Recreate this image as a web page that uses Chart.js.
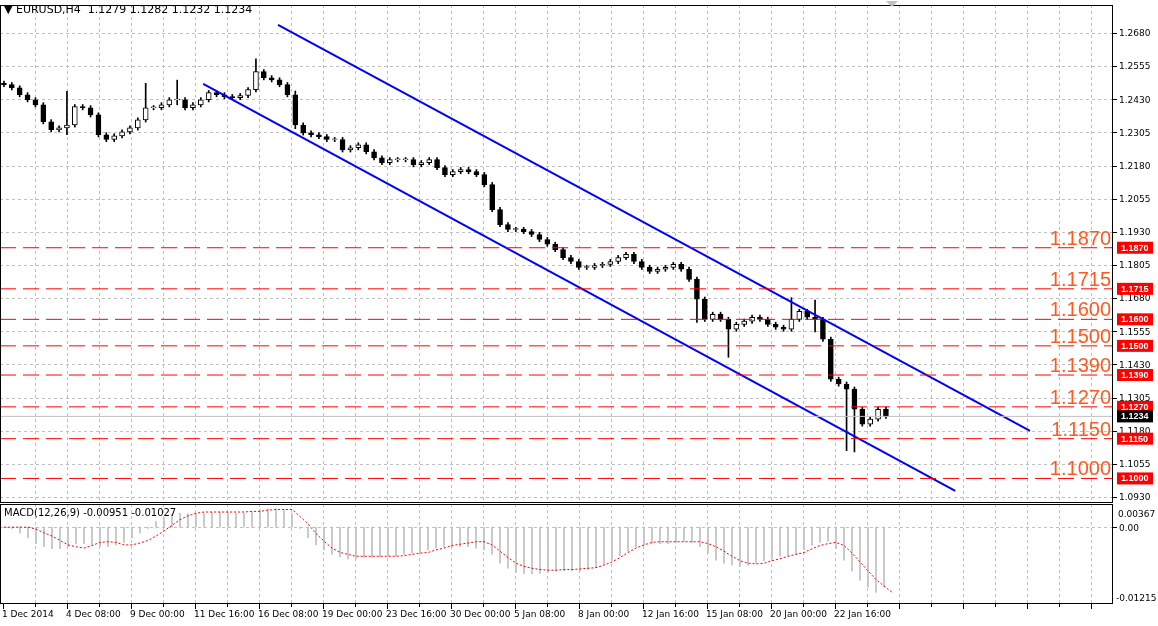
<!DOCTYPE html>
<html><head><meta charset="utf-8">
<script src="https://cdn.jsdelivr.net/npm/chart.js@4.4.1/dist/chart.umd.min.js"></script>
<style>
html,body{margin:0;padding:0;background:#fff;width:1158px;height:626px;overflow:hidden}
#c1{position:absolute;left:0;top:0}
#c2{position:absolute;left:0;top:504px}
#title{position:absolute;left:4px;top:3px;font:11px "DejaVu Sans";color:#000;white-space:pre}
#mtitle{position:absolute;left:4px;top:507px;font:10px "DejaVu Sans";color:#000}
</style></head><body>
<canvas id="c1" width="1158" height="504"></canvas>
<canvas id="c2" width="1158" height="122"></canvas>
<div id="title">▼ EURUSD,H4  1.1279 1.1282 1.1232 1.1234</div>
<div id="mtitle">MACD(12,26,9) -0.00951 -0.01027</div>
<script>
// ---- data (H4 EURUSD, sampled every other bar) ----
const closes = [1.2485,1.2473,1.2447,1.2428,1.2409,1.2345,1.2315,1.2322,1.2333,1.2402,1.2398,1.2371,1.2296,1.2278,1.2292,1.2307,1.2322,1.2352,1.2398,1.2398,1.2409,1.2428,1.2428,1.2398,1.2409,1.2428,1.2455,1.2447,1.2440,1.2436,1.2444,1.2466,1.2534,1.2511,1.2503,1.2485,1.2447,1.2333,1.2303,1.2296,1.2289,1.2278,1.2278,1.2239,1.2247,1.2258,1.2232,1.2209,1.2191,1.2202,1.2202,1.2202,1.2183,1.2191,1.2202,1.2172,1.2146,1.2157,1.2165,1.2157,1.2146,1.2108,1.2014,1.1957,1.1939,1.1939,1.1931,1.1920,1.1901,1.1883,1.1863,1.1833,1.1818,1.1796,1.1796,1.1803,1.1807,1.1818,1.1833,1.1845,1.1818,1.1796,1.1781,1.1789,1.1796,1.1807,1.1789,1.1751,1.1676,1.1600,1.1619,1.1600,1.1563,1.1581,1.1593,1.1608,1.1600,1.1581,1.1570,1.1563,1.1600,1.1630,1.1608,1.1600,1.1525,1.1374,1.1356,1.1337,1.1261,1.1205,1.1224,1.1261,1.1234];
const firstOpen = 1.2490;
const wickPips = 8;
const extremes = {8:[1.2460,1.2296],18:[1.2490,1.2379],22:[1.2502,1.2409],32:[1.2582,1.2500],37:[1.2461,1.2319],62:[1.2057,1.2007],88:[1.1714,1.1588],92:[1.1583,1.1457],100:[1.1682,1.1573],103:[1.1673,1.1553],107:[1.1240,1.1105],108:[1.1250,1.1100]};
const macd = [0,-0.0002,-0.0009,-0.0017,-0.0026,-0.0031,-0.0034,-0.0034,-0.0031,-0.0026,-0.0026,-0.0028,-0.0031,-0.0031,-0.0028,-0.0024,-0.0017,-0.0009,-0.0002,0.0009,0.0015,0.0021,0.0022,0.0021,0.0021,0.0022,0.0024,0.0024,0.0023,0.0022,0.0022,0.0024,0.0028,0.0029,0.0029,0.0028,0.0021,-0.0002,-0.0017,-0.0028,-0.0036,-0.0043,-0.0047,-0.0050,-0.0050,-0.0048,-0.0048,-0.0047,-0.0046,-0.0045,-0.0043,-0.0041,-0.0040,-0.0036,-0.0033,-0.0031,-0.0031,-0.0031,-0.0031,-0.0033,-0.0036,-0.0043,-0.0057,-0.0065,-0.0071,-0.0073,-0.0074,-0.0073,-0.0071,-0.0070,-0.0069,-0.0069,-0.0069,-0.0067,-0.0064,-0.0058,-0.0052,-0.0045,-0.0038,-0.0031,-0.0028,-0.0026,-0.0026,-0.0026,-0.0024,-0.0022,-0.0024,-0.0031,-0.0041,-0.0052,-0.0057,-0.0060,-0.0062,-0.0060,-0.0057,-0.0053,-0.0050,-0.0046,-0.0045,-0.0043,-0.0036,-0.0029,-0.0024,-0.0022,-0.0034,-0.0052,-0.0069,-0.0084,-0.0095,-0.0103,-0.0095];
const signal = [0,0,0,0,-0.0003,-0.0009,-0.0014,-0.0021,-0.0028,-0.0031,-0.0033,-0.0029,-0.0024,-0.0023,-0.0024,-0.0028,-0.0028,-0.0025,-0.0021,-0.0014,-0.0006,0.0003,0.0012,0.0018,0.0022,0.0024,0.0024,0.0024,0.0024,0.0024,0.0024,0.0025,0.0025,0.0027,0.0028,0.0028,0.0028,0.0017,0.0005,-0.0010,-0.0022,-0.0033,-0.0040,-0.0043,-0.0046,-0.0046,-0.0046,-0.0046,-0.0046,-0.0046,-0.0045,-0.0043,-0.0041,-0.0040,-0.0036,-0.0033,-0.0029,-0.0027,-0.0025,-0.0023,-0.0023,-0.0028,-0.0038,-0.0048,-0.0057,-0.0062,-0.0065,-0.0067,-0.0068,-0.0068,-0.0067,-0.0067,-0.0066,-0.0065,-0.0064,-0.0060,-0.0055,-0.0048,-0.0040,-0.0033,-0.0028,-0.0024,-0.0023,-0.0023,-0.0023,-0.0023,-0.0023,-0.0023,-0.0026,-0.0031,-0.0038,-0.0046,-0.0053,-0.0057,-0.0058,-0.0057,-0.0053,-0.0050,-0.0046,-0.0043,-0.0040,-0.0034,-0.0029,-0.0026,-0.0024,-0.0029,-0.0041,-0.0055,-0.0069,-0.0083,-0.0093,-0.0103];
const levels = [1.1870,1.1715,1.1600,1.1500,1.1390,1.1270,1.1150,1.1000];
const currentPrice = 1.1234;
const upperChannel = [[34.8,1.2710],[130.3,1.1179]];
const lowerChannel = [[25.3,1.2488],[120.8,1.0953]];
const priceTicks = [1.2680,1.2555,1.2430,1.2305,1.2180,1.2055,1.1930,1.1805,1.1680,1.1555,1.1430,1.1305,1.1180,1.1055,1.0930];
const macdMax = 0.00367, macdMin = -0.01215;
const timeLabels = ["1 Dec 2014","4 Dec 08:00","9 Dec 00:00","11 Dec 16:00","16 Dec 08:00","19 Dec 00:00","23 Dec 16:00","30 Dec 00:00","5 Jan 08:00","8 Jan 00:00","12 Jan 16:00","15 Jan 08:00","20 Jan 00:00","22 Jan 16:00"];

// ---- build ----
const XMIN=-0.5, XMAX=-0.5+1113/7.875, XMAX_M=-0.5+1113/8;
const wicks=[], bull=[], bear=[];
closes.forEach((c,i)=>{
  const o = i===0?firstOpen:closes[i-1];
  let hi=Math.max(o,c)+wickPips*0.0001, lo=Math.min(o,c)-wickPips*0.0001;
  if(extremes[i]){hi=Math.max(hi,extremes[i][0]);lo=Math.min(lo,extremes[i][1]);}
  wicks.push({x:i,y:[lo,hi]});
  let b=[Math.min(o,c),Math.max(o,c)]; if(b[1]-b[0]<0.0003)b[1]=b[0]+0.0003;
  (c>=o?bull:bear).push({x:i,y:b});
});
const FONT='9px "DejaVu Sans"';
function vgrid(ch){const x=ch.ctx,a=ch.chartArea;x.save();x.strokeStyle='#c0c0c0';x.lineWidth=1;x.setLineDash([3,3]);
  for(let px=35;px<a.right;px+=32){x.beginPath();x.moveTo(px+0.5,a.top);x.lineTo(px+0.5,a.bottom);x.stroke();}x.restore();}
function hgrid(ch,vals,scale){const x=ch.ctx,a=ch.chartArea;x.save();x.strokeStyle='#c0c0c0';x.setLineDash([3,3]);
  vals.forEach(v=>{const py=Math.round(scale.getPixelForValue(v))+0.5;x.beginPath();x.moveTo(a.left,py);x.lineTo(a.right,py);x.stroke();});x.restore();}
function frame(ch){const a=ch.chartArea,x=ch.ctx;x.save();x.strokeStyle='#000';x.lineWidth=1;x.strokeRect(a.left+0.5,a.top+0.5,a.right-a.left-1,a.bottom-a.top-1);x.restore();}
function ylabel(ch,text,py){const x=ch.ctx,a=ch.chartArea;x.save();x.strokeStyle='#000';x.beginPath();x.moveTo(a.right,Math.round(py)+0.5);x.lineTo(a.right+4,Math.round(py)+0.5);x.stroke();
  x.fillStyle='#000';x.font=FONT;x.textAlign='left';x.textBaseline='middle';x.fillText(text,a.right+6,py+1);x.restore();}

const mainPlug={id:'mainPlug',
  beforeDatasetsDraw(ch){vgrid(ch);hgrid(ch,priceTicks,ch.scales.y);},
  afterDraw(ch){
    const x=ch.ctx,ys=ch.scales.y,a=ch.chartArea;frame(ch);
    priceTicks.forEach(v=>ylabel(ch,v.toFixed(4),ys.getPixelForValue(v)));
    x.save();
    levels.forEach(l=>{const py=ys.getPixelForValue(l);
      x.font='20px "Liberation Sans"';x.fillStyle='#ff5a1e';x.textAlign='right';x.textBaseline='alphabetic';x.fillText(l.toFixed(4),1111,py-3);
      x.fillStyle='#ff0000';x.fillRect(a.right+4,py-6,36,12);x.font='bold 9px "Liberation Sans"';x.fillStyle='#fff';x.textAlign='left';x.textBaseline='middle';x.fillText(l.toFixed(4),a.right+8,py+0.5);});
    const py=ys.getPixelForValue(currentPrice);x.fillStyle='#000';x.fillRect(a.right+4,py-6,36,12);x.fillStyle='#fff';x.font='bold 9px "Liberation Sans"';x.textAlign='left';x.textBaseline='middle';x.fillText(currentPrice.toFixed(4),a.right+8,py+0.5);
    x.fillStyle='#c0c0c0';x.beginPath();x.moveTo(886,1);x.lineTo(898,1);x.lineTo(892,7);x.fill();
    x.restore();}};

const lineDs = (pts,color,w,dash)=>({type:'line',data:pts.map(p=>({x:p[0],y:p[1]})),borderColor:color,borderWidth:w,borderDash:dash||[],pointRadius:0,fill:false,order:0});
const datasets=[
  {type:'bar',data:wicks,backgroundColor:'#000',barThickness:1,grouped:false,order:3},
  {type:'bar',data:bull,backgroundColor:'#fff',borderColor:'#000',borderWidth:1,borderSkipped:false,barThickness:5,grouped:false,order:2},
  {type:'bar',data:bear,backgroundColor:'#000',borderColor:'#000',borderWidth:1,borderSkipped:false,barThickness:5,grouped:false,order:2},
  lineDs([[XMIN,currentPrice],[XMAX,currentPrice]],'#c0c0c0',1),
  ...levels.map(l=>lineDs([[XMIN,l],[XMAX,l]],'#ff0000',1,[16,7])),
  lineDs(upperChannel,'#0000ff',2),
  lineDs(lowerChannel,'#0000ff',2)
];
const yAxisBase={position:'right',ticks:{display:false},grid:{display:false},border:{display:false},afterFit:s=>{s.width=45}};
new Chart(document.getElementById('c1'),{data:{datasets},plugins:[mainPlug],options:{
  responsive:false,animation:false,events:[],layout:{padding:{top:5,bottom:1,left:0,right:0}},
  plugins:{legend:{display:false},tooltip:{enabled:false}},
  scales:{
    x:{type:'linear',display:false,offset:false,min:XMIN,max:XMAX},
    y:{...yAxisBase,min:1.0930-6*0.0003763,max:1.2680+28*0.0003763}
  }}});

const macdPlug={id:'macdPlug',
  beforeDatasetsDraw(ch){vgrid(ch);hgrid(ch,[0],ch.scales.y);},
  afterDraw(ch){const x=ch.ctx,a=ch.chartArea;frame(ch);
    x.save();x.fillStyle='#000';x.font=FONT;x.textAlign='left';x.textBaseline='middle';
    x.fillText(macdMax.toFixed(5),a.right+5,a.top+11);
    ylabel(ch,'0.00',ch.scales.y.getPixelForValue(0));
    x.fillText(macdMin.toFixed(5),a.right+3,a.bottom-5);
    x.strokeStyle='#000';
    for(let px=3,k=0;px<a.right;px+=32,k++){x.beginPath();x.moveTo(px+0.5,a.bottom);x.lineTo(px+0.5,a.bottom+(k%2===0?5:3));x.stroke();
      if(k%2===0&&timeLabels[k/2]){x.textBaseline='alphabetic';x.fillText(timeLabels[k/2],px-1,a.bottom+13);}}
    x.restore();}};
new Chart(document.getElementById('c2'),{data:{datasets:[
  {type:'bar',data:macd.map((v,i)=>({x:i,y:[0,v]})),backgroundColor:'#c0c0c0',barThickness:1,order:2},
  {type:'line',data:signal.map((v,i)=>({x:i,y:v})),borderColor:'#ff0000',borderWidth:1,borderDash:[2,2],pointRadius:0,order:1}
]},plugins:[macdPlug],options:{
  responsive:false,animation:false,events:[],layout:{padding:{top:0,bottom:22,left:0,right:0}},
  plugins:{legend:{display:false},tooltip:{enabled:false}},
  scales:{
    x:{type:'linear',display:false,offset:false,min:XMIN,max:XMAX_M},
    y:{...yAxisBase,min:macdMin,max:macdMax}
  }}});
</script></body></html>
